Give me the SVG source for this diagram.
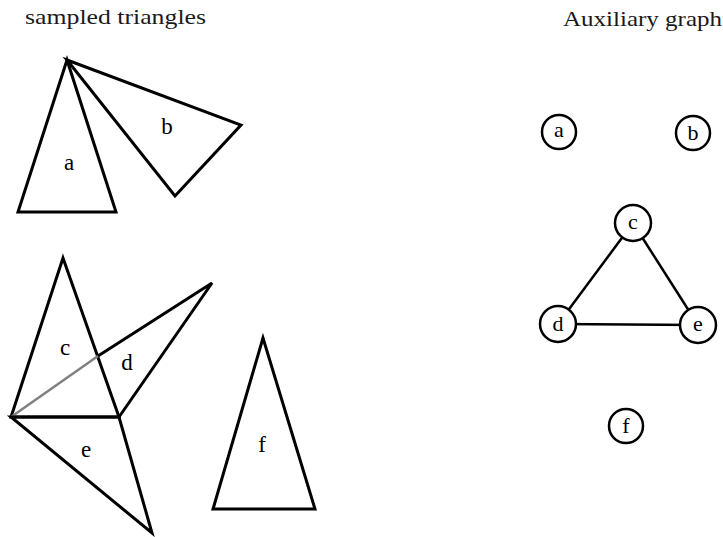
<svg xmlns="http://www.w3.org/2000/svg" width="723" height="537" viewBox="0 0 723 537">
<style>
.tri{fill:none;stroke:#000;stroke-width:3;stroke-linejoin:miter}
.lbl{font-family:"Liberation Serif","DejaVu Serif",serif;font-size:23px;fill:#000;text-anchor:middle}
.title{font-family:"Liberation Serif","DejaVu Serif",serif;font-size:21px;fill:#1a1a1a}
.node circle{fill:#fff;stroke:#000;stroke-width:2.5}
.node text{font-family:"Liberation Serif","DejaVu Serif",serif;font-size:22px;fill:#000;text-anchor:middle}
.edge{stroke:#000;stroke-width:2.5}
</style>
<rect width="723" height="537" fill="#fff"/>
<text class="title" x="25" y="24" textLength="181" lengthAdjust="spacingAndGlyphs">sampled triangles</text>
<text class="title" x="563" y="26" textLength="159" lengthAdjust="spacingAndGlyphs">Auxiliary graph</text>

<g id="tri-a"><polygon class="tri" points="67,60 18,212 116,212"/><text class="lbl" x="69" y="170">a</text></g>
<g id="tri-b"><polygon class="tri" points="67,60 241,125 175,196"/><text class="lbl" x="167" y="134">b</text></g>
<g id="tri-c"><polygon class="tri" points="63,258 11,417 119,417"/><text class="lbl" x="65" y="355">c</text></g>
<g id="tri-d"><polyline class="tri" points="98,356 212,283 119,417"/><line x1="11" y1="417" x2="98" y2="356" stroke="#808080" stroke-width="2.5"/><text class="lbl" x="127" y="370">d</text></g>
<g id="tri-e"><polygon class="tri" points="11,417 119,417 152,533"/><text class="lbl" x="86" y="457">e</text></g>
<g id="tri-f"><polygon class="tri" points="263,338 213,509 315,509"/><text class="lbl" x="262" y="452">f</text></g>

<g id="edges">
<line class="edge" x1="633" y1="223" x2="558" y2="324"/>
<line class="edge" x1="633" y1="223" x2="698" y2="325"/>
<line class="edge" x1="558" y1="324" x2="698" y2="325"/>
</g>
<g id="node-a" class="node"><circle cx="559" cy="132" r="17"/><text x="559" y="137">a</text></g>
<g id="node-b" class="node"><circle cx="693" cy="133" r="17"/><text x="693" y="140">b</text></g>
<g id="node-c" class="node"><circle cx="633" cy="223" r="18"/><text x="633" y="229">c</text></g>
<g id="node-d" class="node"><circle cx="558" cy="324" r="18"/><text x="558" y="331">d</text></g>
<g id="node-e" class="node"><circle cx="698" cy="325" r="18"/><text x="698" y="331">e</text></g>
<g id="node-f" class="node"><circle cx="626" cy="426" r="17"/><text x="626" y="433">f</text></g>
</svg>
